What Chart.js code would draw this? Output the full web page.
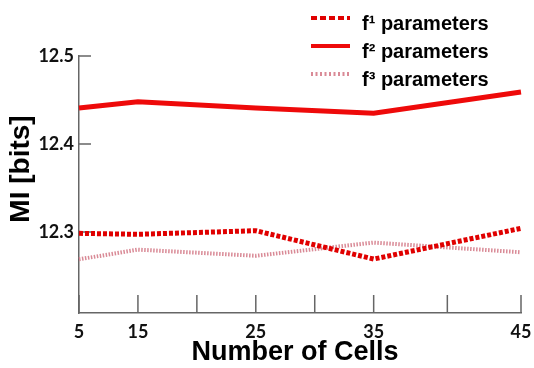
<!DOCTYPE html>
<html>
<head>
<meta charset="utf-8">
<script src="https://cdn.jsdelivr.net/npm/chart.js@4/dist/chart.umd.min.js"></script>
<style>
  html, body { margin: 0; padding: 0; background: #fff; }
</style>
</head>
<body>
<canvas id="myChart" width="534" height="368"></canvas>
<script>
// valeurs
const cells = ["5", "15", "25", "35", "45"];
const f1Values = [12.2985, 12.2974, 12.3015, 12.2693, 12.3042];
const f2Values = [12.441, 12.448, 12.441, 12.435, 12.459];
const f3Values = [12.269, 12.280, 12.273, 12.288, 12.277];
const seriesNames = ["f¹ parameters", "f² parameters", "f³ parameters"];
const yTickValues = [12.3, 12.4, 12.5];

// l'axe x d'origine n'est pas regulier : on le pose sur une grille de 16 cases
const slotCount = 16;
const cellSlots = [0, 2, 6, 10, 15];
const minorSlots = [4, 8, 12.5];
const xLabels = [];
for (let i = 0; i < slotCount; ++i) {
  xLabels.push("");
}
cells.forEach((c, i) => (xLabels[cellSlots[i]] = c));

const axisColor = "#666";
const tickFont = { family: "Lato", size: 18, weight: "bold" };
const legendDash = [[6, 3], [], [2, 2.5]];

function makePoints(values) {
  return cells.map((c, i) => ({ x: c, y: values[i] }));
}

const data = {
  labels: xLabels,
  datasets: [
    {
      label: seriesNames[0],
      data: makePoints(f1Values),
      borderColor: "#e00000",
      borderWidth: 5,
      borderDash: [4, 2],
    },
    {
      label: seriesNames[1],
      data: makePoints(f2Values),
      borderColor: "#ee0a0a",
      borderWidth: 5,
    },
    {
      label: seriesNames[2],
      data: makePoints(f3Values),
      borderColor: "#d98a96",
      borderWidth: 4,
      borderDash: [1.5, 1.5],
    },
  ],
};

// petits traits vers l'interieur, titres et legende
const decor = {
  id: "decor",
  beforeDatasetsDraw(chart) {
    const { ctx, chartArea, scales } = chart;
    ctx.save();
    ctx.strokeStyle = axisColor;
    ctx.lineWidth = 1.5;
    ctx.beginPath();
    cellSlots.concat(minorSlots).forEach((s) => {
      const px = scales.x.getPixelForValue(s);
      ctx.moveTo(px, chartArea.bottom);
      ctx.lineTo(px, chartArea.bottom - 18);
    });
    yTickValues.forEach((v) => {
      const py = scales.y.getPixelForValue(v);
      ctx.moveTo(chartArea.left, py);
      ctx.lineTo(chartArea.left + 12, py);
    });
    ctx.stroke();
    ctx.restore();
  },
  afterDraw(chart) {
    const { ctx } = chart;
    ctx.save();
    ctx.fillStyle = "#000";
    ctx.textAlign = "center";
    ctx.textBaseline = "middle";
    // titre axe x
    ctx.font = 'bold 27px "Liberation Sans"';
    ctx.fillText("Number of Cells", 295, 353);
    // titre axe y
    ctx.save();
    ctx.translate(21, 169);
    ctx.rotate(-Math.PI / 2);
    ctx.font = 'bold 28px "Liberation Sans"';
    ctx.fillText("MI [bits]", 0, 0);
    ctx.restore();
    // legende
    ctx.textAlign = "left";
    ctx.font = 'bold 20px "Liberation Sans"';
    chart.data.datasets.forEach((ds, i) => {
      const ly = 18 + i * 28;
      ctx.strokeStyle = ds.borderColor;
      ctx.lineWidth = 4;
      ctx.setLineDash(legendDash[i]);
      ctx.beginPath();
      ctx.moveTo(311, ly);
      ctx.lineTo(350, ly);
      ctx.stroke();
      ctx.fillText(ds.label, 362, ly + 6);
    });
    ctx.restore();
  },
};

const config = {
  type: "line",
  data: data,
  options: {
    responsive: false,
    animation: false,
    elements: {
      point: { radius: 0 },
      line: { tension: 0 },
    },
    layout: {
      padding: { top: 56, right: 13, left: 0, bottom: 0 },
    },
    plugins: {
      legend: { display: false },
      tooltip: { enabled: false },
    },
    scales: {
      x: {
        type: "category",
        offset: false,
        grid: { drawOnChartArea: false, drawTicks: false },
        border: { color: axisColor, width: 1.5 },
        ticks: {
          autoSkip: false,
          maxRotation: 0,
          padding: 8,
          color: "#111",
          font: tickFont,
        },
        afterFit: (s) => {
          s.height = 55;
          s.paddingLeft = 0;
          s.paddingRight = 0;
        },
      },
      y: {
        min: 12.208,
        max: 12.5,
        grid: { drawOnChartArea: false, drawTicks: false },
        border: { color: axisColor, width: 1.5 },
        afterBuildTicks: (s) => {
          s.ticks = yTickValues.map((v) => ({ value: v }));
        },
        ticks: {
          padding: 5,
          color: "#111",
          font: tickFont,
          callback: (v) => v.toFixed(1),
        },
        afterFit: (s) => {
          s.width = 79;
        },
      },
    },
  },
  plugins: [decor],
};

let context = document.getElementById("myChart").getContext("2d");
let chart = new Chart(context, config);
</script>
</body>
</html>
